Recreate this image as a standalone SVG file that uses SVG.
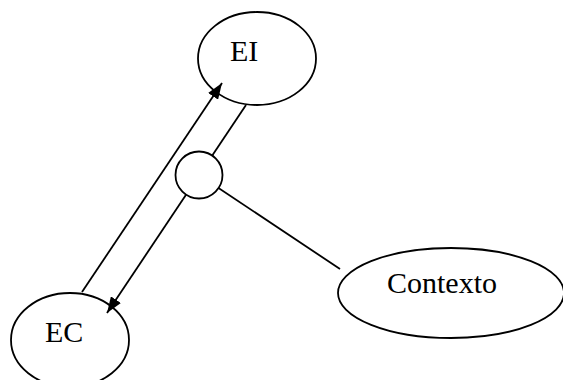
<svg xmlns="http://www.w3.org/2000/svg" width="563" height="380" viewBox="0 0 563 380">
<style>
.shape{fill:#fff;stroke:#000;stroke-width:1.8}
.edge{fill:none;stroke:#000;stroke-width:1.8}
.lbl{font-family:"Liberation Serif","Times New Roman",serif;font-size:30px;fill:#000}
</style>
<defs>
<marker id="arr" viewBox="0 0 16 12" refX="16" refY="6" markerWidth="16" markerHeight="12" markerUnits="userSpaceOnUse" orient="auto">
<path d="M0,0 L16,6 L0,12 Z" fill="#000"/>
</marker>
</defs>
<rect width="563" height="380" fill="#fff"/>
<g id="node-EI">
<ellipse class="shape" cx="257" cy="58.5" rx="59" ry="46.5"/>
<text class="lbl" x="230" y="61">EI</text>
</g>
<g id="node-EC">
<ellipse class="shape" cx="70" cy="340" rx="59" ry="47"/>
<text class="lbl" x="45" y="342">EC</text>
</g>
<g id="node-Contexto">
<ellipse class="shape" cx="451" cy="293" rx="113" ry="45"/>
<text class="lbl" x="387" y="293">Contexto</text>
</g>
<g id="connectors">
<line class="edge" x1="82" y1="292" x2="222" y2="83" marker-end="url(#arr)"/>
<line class="edge" x1="246" y1="105" x2="107" y2="313" marker-end="url(#arr)"/>
<line class="edge" x1="199" y1="175" x2="340" y2="269"/>
</g>
<g id="node-junction">
<circle class="shape" cx="199" cy="175" r="23.5"/>
</g>
</svg>
